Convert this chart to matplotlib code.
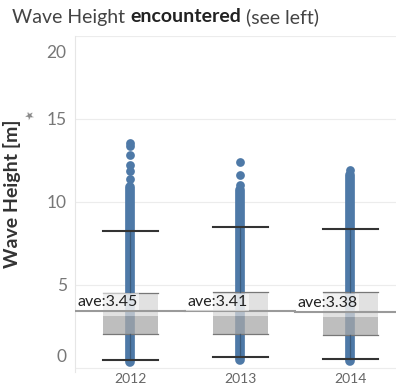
import matplotlib
matplotlib.use("Agg")
import matplotlib.pyplot as plt
from matplotlib import transforms

# ---- data ----
years = ["2012", "2013", "2014"]
q1 = [2.05, 2.05, 1.99]
median = [3.13, 3.13, 3.07]
q3 = [4.5, 4.58, 4.58]
whisker_low = [0.48, 0.66, 0.54]
whisker_high = [8.25, 8.5, 8.37]
averages = [3.45, 3.41, 3.38]
dense_low = [0.35, 0.45, 0.4]      # continuous band of observations
dense_high = [10.9, 10.7, 11.6]
outliers = [
    [13.55, 13.35, 12.85, 12.25, 11.85, 11.4],
    [12.4, 11.65, 11.0],
    [11.9],
]
yticks = [0, 5, 10, 15, 20]

BLUE = "#4e79a7"

plt.rcParams["font.family"] = ["Lato", "DejaVu Sans"]
fig = plt.figure(figsize=(3.96, 3.86), dpi=100)
ax = fig.add_axes([75 / 396, 14 / 386, 330 / 396, 336 / 386])
ax.set_xlim(-0.5, 2.5)
ax.set_ylim(-0.25, 20.0)

for y in yticks:
    ax.axhline(y, color="#ececec", lw=0.8, zorder=0)

half = 0.25
for i in range(len(years)):
    # observations
    ax.plot([i, i], [dense_low[i], dense_high[i]], color=BLUE, lw=7,
            solid_capstyle="round", zorder=2)
    ax.plot([i] * len(outliers[i]), outliers[i], "o", color=BLUE, ms=6.3,
            mec="none", zorder=2)
    # box
    ax.fill_between([i - half, i + half], median[i], q3[i], color="#d8d8d8",
                    alpha=0.75, lw=0, zorder=3)
    ax.fill_between([i - half, i + half], q1[i], median[i], color="#a9a9a9",
                    alpha=0.75, lw=0, zorder=3)
    for v in (q1[i], q3[i]):
        ax.plot([i - half, i + half], [v, v], color="#777777", lw=0.9, zorder=4)
    # whiskers
    ax.plot([i, i], [q3[i], whisker_high[i]], color="#3c5b7c", lw=0.9, zorder=4)
    ax.plot([i, i], [whisker_low[i], q1[i]], color="#3c5b7c", lw=0.9, zorder=4)
    for v in (whisker_low[i], whisker_high[i]):
        ax.plot([i - half, i + half], [v, v], color="#333333", lw=1.5, zorder=5)

# average reference lines and labels
for i in range(len(years)):
    ax.plot([i - 0.5, i + 0.5], [averages[i], averages[i]], color="#9a9a9a",
            lw=1.5, zorder=6)
    ax.text(i - 0.475, averages[i] + 0.12, f"ave:{averages[i]:.2f}", fontsize=11.5,
            color="#222222", ha="left", va="bottom", zorder=7,
            bbox=dict(facecolor="white", alpha=0.55, edgecolor="none", pad=1.0))

ax.set_xticks(range(len(years)))
ax.set_xticklabels(years, fontsize=10, color="#666666")
ax.set_yticks(yticks)
ax.set_yticklabels([str(t) for t in yticks], fontsize=12.5, color="#777777")
ax.tick_params(axis="both", length=0)
ax.tick_params(axis="y", pad=6)
ax.tick_params(axis="x", pad=1)
# tableau-style: keep end labels inside the axis span
labs = ax.get_yticklabels()
labs[-1].set_transform(labs[-1].get_transform() +
                       transforms.ScaledTranslation(0, -15 / 100, fig.dpi_scale_trans))
labs[0].set_transform(labs[0].get_transform() +
                      transforms.ScaledTranslation(0, 12 / 100, fig.dpi_scale_trans))

for s in ["top", "right", "bottom"]:
    ax.spines[s].set_visible(False)
ax.spines["left"].set_color("#e6e6e6")

ax.set_ylabel("Wave Height [m]", fontsize=14, color="#333333", fontweight="bold")
ax.yaxis.set_label_coords(-0.165, 0.53)
fig.text(30 / 396, 1 - 116 / 386, "\u2605", fontsize=8, color="#888888",
         rotation=30, ha="center", va="center")

TS = 14
fig.text(12 / 396, 1 - 17 / 386, "Wave Height ", fontsize=TS, color="#444444",
         ha="left", va="center")
t1 = fig.texts[-1]
fig.canvas.draw()
bb = t1.get_window_extent()
fig.text(bb.x1 / fig.bbox.width, 1 - 17 / 386, "encountered", fontsize=TS,
         color="#222222", fontweight="bold", ha="left", va="center")
t2 = fig.texts[-1]
fig.canvas.draw()
bb2 = t2.get_window_extent()
fig.text(bb2.x1 / fig.bbox.width, 1 - 17 / 386, " (see left)", fontsize=TS,
         color="#444444", ha="left", va="center")

fig.savefig("out.png", dpi=100)
